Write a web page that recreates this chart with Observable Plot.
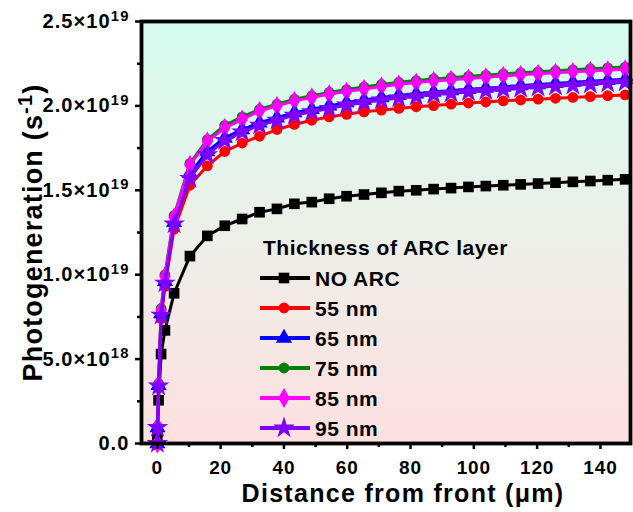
<!DOCTYPE html>
<html><head><meta charset="utf-8">
<script src="https://cdn.jsdelivr.net/npm/d3@7"></script>
<script src="https://cdn.jsdelivr.net/npm/@observablehq/plot@0.6"></script>
<style>
body{margin:0;background:#fff}
#chart{position:relative;width:633px;height:512px}
</style>
</head><body><div id="chart"></div>
<script>
// Distance from front (µm)
const distance = [0, 0.05, 0.4, 1.2, 2.4, 5.3, 10.3, 15.8, 21.3, 26.8, 32.3, 37.8, 43.3, 48.8, 54.3, 59.8, 65.3, 70.8, 76.3, 81.8, 87.3, 92.8, 98.3, 103.8, 109.3, 114.8, 120.3, 125.8, 131.3, 136.8, 142.3, 147.8];
// Photogeneration, in units of 1e18 s^-1
const noArc = [0.1, 0.7, 2.56, 5.3, 6.7, 8.9, 11.1, 12.3, 12.9, 13.3, 13.7, 13.9, 14.2, 14.3, 14.5, 14.65, 14.75, 14.85, 14.95, 15.0, 15.07, 15.13, 15.2, 15.25, 15.3, 15.35, 15.4, 15.45, 15.5, 15.55, 15.6, 15.65];
const arc55 = [0, 0.9, 3.3, 7.4, 9.3, 12.7, 15.3, 16.45, 17.3, 17.8, 18.2, 18.6, 18.9, 19.15, 19.35, 19.5, 19.65, 19.75, 19.85, 19.95, 20.02, 20.1, 20.17, 20.23, 20.3, 20.35, 20.4, 20.45, 20.5, 20.55, 20.6, 20.65];
const arc65 = [0, 0.95, 3.45, 7.7, 9.6, 13.1, 16.0, 17.3, 18.1, 18.6, 19.0, 19.3, 19.6, 19.8, 20.0, 20.2, 20.35, 20.5, 20.62, 20.72, 20.82, 20.9, 20.98, 21.05, 21.12, 21.2, 21.27, 21.33, 21.4, 21.46, 21.52, 21.58];
const arc75 = [0, 1.0, 3.55, 8.0, 10.0, 13.5, 16.6, 18.0, 18.85, 19.35, 19.8, 20.1, 20.4, 20.6, 20.8, 20.97, 21.12, 21.27, 21.4, 21.5, 21.6, 21.67, 21.75, 21.82, 21.9, 21.96, 22.02, 22.08, 22.14, 22.2, 22.25, 22.3];
const arc85 = [0, 1.0, 3.5, 7.9, 9.9, 13.4, 16.5, 17.9, 18.7, 19.2, 19.7, 20.0, 20.3, 20.5, 20.7, 20.85, 21.0, 21.15, 21.28, 21.38, 21.48, 21.55, 21.63, 21.7, 21.78, 21.84, 21.9, 21.96, 22.02, 22.07, 22.12, 22.17];
const arc95 = [0, 0.95, 3.4, 7.6, 9.5, 13.0, 15.7, 17.1, 17.95, 18.45, 18.85, 19.15, 19.45, 19.65, 19.85, 20.05, 20.2, 20.35, 20.47, 20.57, 20.67, 20.75, 20.83, 20.9, 20.97, 21.04, 21.1, 21.16, 21.22, 21.28, 21.34, 21.4];

const seriesNames = ["NO ARC", "55 nm", "65 nm", "75 nm", "85 nm", "95 nm"];
const seriesValues = [noArc, arc55, arc65, arc75, arc85, arc95];
const seriesColors = ["#000000", "#ff0000", "#0000ff", "#008000", "#ff00ff", "#7f00ff"];
const seriesSymbols = ["square", "circle", "triangle", "circle", "diamond", "star"];
const symbolRadius = {square: 6.0, circle: 5.4, triangle: 6.0, diamond: 6.0, star: 6.8};

const xTicks = [0, 20, 40, 60, 80, 100, 120, 140];
const xMinor = [10, 30, 50, 70, 90, 110, 130];
const yTicks = [0, 5e18, 1e19, 1.5e19, 2e19, 2.5e19];
const yTickLabels = ["0.0", "5.0×10^{18}", "1.0×10^{19}", "1.5×10^{19}", "2.0×10^{19}", "2.5×10^{19}"];
const yMinor = [2.5e18, 7.5e18, 1.25e19, 1.75e19, 2.25e19];

const xTitle = "Distance from front (μm)";
const yTitle = "Photogeneration (s^{-1})";
const legendTitle = "Thickness of ARC layer";

const tables = seriesValues.map(vals => vals.map((v, i) => ({x: distance[i], y: v * 1e18})));

const seriesMarks = [];
tables.forEach((t, s) => {
  seriesMarks.push(Plot.line(t, {x: "x", y: "y", stroke: seriesColors[s], strokeWidth: 3}));
  seriesMarks.push(Plot.dot(t, {x: "x", y: "y", fill: seriesColors[s], symbol: seriesSymbols[s], r: symbolRadius[seriesSymbols[s]], stroke: "none"}));
});

const plot = Plot.plot({
  width: 633, height: 512,
  marginLeft: 141, marginRight: 3, marginTop: 21, marginBottom: 69,
  style: {fontFamily: "'Liberation Sans', Arial, sans-serif", fontWeight: "bold", fontSize: "19px", background: "transparent", color: "#000", overflow: "visible"},
  x: {domain: [-5, 149.5], label: null},
  y: {domain: [0, 2.5e19], label: null},
  marks: [
    Plot.frame({fill: "url(#bgGrad)", stroke: "none"}),
    ...seriesMarks,
    Plot.frame({stroke: "#000", strokeWidth: 3.8}),
    Plot.axisX(xTicks, {tickSize: 6, tickPadding: 11, strokeWidth: 2.5, label: null, fontSize: 19, tickFormat: d => String(d)}),
    Plot.axisX(xMinor, {tickSize: 4, strokeWidth: 2.5, label: null, tickFormat: () => ""}),
    Plot.axisY(yTicks, {tickSize: 6, tickPadding: 6, strokeWidth: 2.5, label: null, fontSize: 20, tickFormat: d => yTickLabels[yTicks.indexOf(d)]}),
    Plot.axisY(yMinor, {tickSize: 4, strokeWidth: 2.5, label: null, tickFormat: () => ""}),
    Plot.text([xTitle], {frameAnchor: "bottom", textAnchor: "middle", lineAnchor: "middle", dx: 17, dy: 50, fontSize: 25, fontWeight: "bold"}),
    Plot.text([yTitle], {frameAnchor: "left", textAnchor: "middle", lineAnchor: "middle", dx: -108, rotate: -90, fontSize: 27, fontWeight: "bold"})
  ]
});

const svg = d3.select(plot);
// gradient background definition
const defs = svg.insert("defs", ":first-child");
const grad = defs.append("linearGradient").attr("id", "bgGrad").attr("x1", 0).attr("y1", 0).attr("x2", 0).attr("y2", 1);
grad.append("stop").attr("offset", "0%").attr("stop-color", "#d5fcef");
grad.append("stop").attr("offset", "50%").attr("stop-color", "#ecefe8");
grad.append("stop").attr("offset", "100%").attr("stop-color", "#fde0e0");

// drop the empty labels of the minor-tick axes
svg.selectAll("text").filter(function () { return this.textContent === ""; }).remove();

// widen the tick labels a little, like the reference's bold font
svg.selectAll("g[aria-label='x-axis tick label'] text").style("letter-spacing", "0.9px");
svg.selectAll("g[aria-label='y-axis tick label'] text").style("letter-spacing", "1.1px");

// superscripts: "base^{exp}rest"
svg.selectAll("text").each(function () {
  const t = this.textContent;
  const m = t.match(/^(.*)\^\{([^}]*)\}(.*)$/);
  if (!m) return;
  const el = d3.select(this);
  el.text(null);
  el.append("tspan").text(m[1]);
  el.append("tspan").attr("dy", "-0.5em").attr("font-size", "0.74em").text(m[2]);
  if (m[3]) el.append("tspan").attr("dy", "0.37em").text(m[3]);
});

// titles letter-spacing
svg.selectAll("text").filter(function () { return this.textContent.startsWith("Distance"); }).style("letter-spacing", "1.3px");
svg.selectAll("text").filter(function () { return this.textContent.startsWith("Photogeneration"); }).style("letter-spacing", "1.2px");

// legend
const lg = svg.append("g").attr("font-size", 21).attr("font-weight", "bold").attr("text-anchor", "start").style("letter-spacing", "0.5px");
lg.append("text").attr("x", 263).attr("y", 255).text(legendTitle);
seriesNames.forEach((name, s) => {
  const cy = 278 + s * 30;
  lg.append("line").attr("x1", 260).attr("x2", 310).attr("y1", cy).attr("y2", cy).attr("stroke", seriesColors[s]).attr("stroke-width", 4);
  const sym = {square: d3.symbolSquare, circle: d3.symbolCircle, triangle: d3.symbolTriangle, diamond: d3.symbolDiamond, star: d3.symbolStar}[seriesSymbols[s]];
  const r = symbolRadius[seriesSymbols[s]];
  lg.append("path").attr("transform", `translate(284,${cy})`).attr("d", d3.symbol(sym, Math.PI * r * r)()).attr("fill", seriesColors[s]);
  lg.append("text").attr("x", 315).attr("y", cy + 7.5).text(name);
});

document.getElementById("chart").appendChild(plot);
</script>
</body></html>
